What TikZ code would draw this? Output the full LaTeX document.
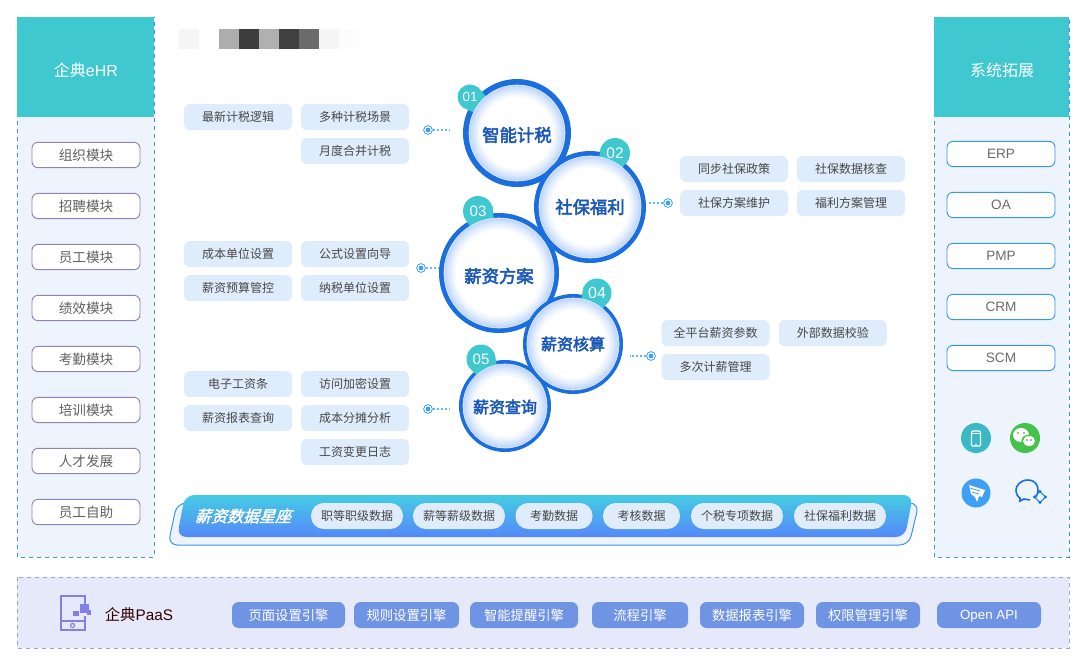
\documentclass[tikz,border=0pt]{standalone}
\usepackage{fontspec}
\setmainfont{Noto Sans CJK SC}
\newfontfamily\latinfont{Liberation Sans}
\newfontfamily\ballfont[FakeBold=3]{Noto Sans CJK SC}
\newfontfamily\starfont[FakeBold=2,FakeSlant=0.3]{Noto Sans CJK SC}
\usetikzlibrary{shapes,positioning}
\definecolor{tealhead}{RGB}{64,200,208}
\definecolor{panelblue}{RGB}{237,244,254}
\definecolor{dashblue}{RGB}{58,150,235}
\definecolor{tagblue}{RGB}{223,236,251}
\definecolor{ringblue}{RGB}{26,110,224}
\definecolor{balltext}{RGB}{28,88,184}
\definecolor{glowblue}{RGB}{165,198,250}
\definecolor{modpurple}{RGB}{146,128,184}
\definecolor{dotblue}{RGB}{62,160,245}
\definecolor{dotlight}{RGB}{92,192,248}
\definecolor{paasfill}{RGB}{230,233,250}
\definecolor{paasdash}{RGB}{160,160,232}
\definecolor{paasicon}{RGB}{128,128,232}
\definecolor{enginefill}{RGB}{112,148,228}
\definecolor{bandtop}{RGB}{69,205,227}
\definecolor{bandbottom}{RGB}{85,136,250}
\definecolor{phoneteal}{RGB}{60,184,196}
\definecolor{chatgreen}{RGB}{67,195,75}

\begin{document}
\begin{tikzpicture}[x=0.75pt,y=-0.75pt,on grid,node distance=38.25pt,
        panel/.style={fill=panelblue,draw=dashblue,dashed,line width=0.75pt},
        headtext/.style={text=white,font=\fontsize{12}{14}\selectfont},
        modbox/.style={draw=modpurple,fill=white,rounded corners=4.5pt,line width=0.7pt,minimum width=81pt,minimum height=19pt,inner sep=0pt,text=black!62,font=\fontsize{10.2}{12}\selectfont},
        sysbox/.style={modbox,draw=dashblue,text=black!58,font=\latinfont\fontsize{10.2}{12}\selectfont},
        tag/.style={fill=tagblue,rounded corners=4.5pt,minimum width=81pt,minimum height=19.5pt,inner sep=0pt,text=black!72,font=\fontsize{9}{11}\selectfont},
        ball/.style={circle,draw=white!60!glowblue,line width=0.5pt,fill=white,inner sep=0pt,minimum size=#1*0.75pt},
        ballname/.style={text=balltext,font=\ballfont\fontsize{#1}{15}\selectfont},
        badge/.style={circle,fill=tealhead,inner sep=0pt,minimum size=#1*0.75pt},
        badgenum/.style={text=white,inner sep=0pt,font=\latinfont\fontsize{#1}{13}\selectfont},
        dotmark/.style={circle,draw=dotblue,fill=white,line width=0.7pt,inner sep=0pt,minimum size=6.5pt},
        dotline/.style={dotlight,line width=1.2pt,dash pattern=on 1.5pt off 1.5pt},
        pill/.style={fill=tagblue,rounded corners=9.5pt,minimum width=#1*0.75pt,minimum height=19.5pt,inner sep=0pt,text=black!72,font=\fontsize{9}{11}\selectfont},
        engine/.style={fill=enginefill,rounded corners=5pt,minimum width=#1*0.75pt,minimum height=19.5pt,inner sep=0pt,text=white,font=\fontsize{10}{12}\selectfont}]
        \useasboundingbox (0,0) rectangle (1079,658);

        \path[panel] (17,17) rectangle (154,557);
        \path[panel] (934,17) rectangle (1069,557);
        \path[fill=paasfill,draw=paasdash,dashed,line width=0.75pt] (17,577) rectangle (1069,648);
        \fill[tealhead] (17,17) rectangle (154,117);
        \fill[tealhead] (934,17) rectangle (1069,117);
        \node[headtext]         (h_1) at (86,70)        {企典{\latinfont eHR}};
        \node[headtext]         (h_2) at (1002,70)      {系统拓展};

        \foreach \x/\g in {179/96,219/68,239/24,259/69,279/25,299/42,319/96,339/99}
            \fill[white!\g!black] (\x,29) rectangle ++(20,20);

        \node[modbox]           (m_1) at (86,155)       {组织模块};
        \node[modbox]           (m_2) [below of = m_1]  {招聘模块};
        \node[modbox]           (m_3) [below of = m_2]  {员工模块};
        \node[modbox]           (m_4) [below of = m_3]  {绩效模块};
        \node[modbox]           (m_5) [below of = m_4]  {考勤模块};
        \node[modbox]           (m_6) [below of = m_5]  {培训模块};
        \node[modbox]           (m_7) [below of = m_6]  {人才发展};
        \node[modbox]           (m_8) [below of = m_7]  {员工自助};

        \node[sysbox]           (s_1) at (1001,154)     {ERP};
        \node[sysbox]           (s_2) [below of = s_1]  {OA};
        \node[sysbox]           (s_3) [below of = s_2]  {PMP};
        \node[sysbox]           (s_4) [below of = s_3]  {CRM};
        \node[sysbox]           (s_5) [below of = s_4]  {SCM};

        \node[tag]              (t_1) at (238,117)                          {最新计税逻辑};
        \node[tag]              (t_2) [right of = t_1,node distance=87.75pt] {多种计税场景};
        \node[tag]              (t_3) [below of = t_2,node distance=25.5pt]  {月度合并计税};

        \node[tag]              (t_4) at (238,254)                          {成本单位设置};
        \node[tag]              (t_5) [right of = t_4,node distance=87.75pt] {公式设置向导};
        \node[tag]              (t_6) [below of = t_4,node distance=25.5pt]  {薪资预算管控};
        \node[tag]              (t_7) [right of = t_6,node distance=87.75pt] {纳税单位设置};

        \node[tag]              (t_8) at (238,384)                          {电子工资条};
        \node[tag]              (t_9) [right of = t_8,node distance=87.75pt] {访问加密设置};
        \node[tag]              (t_10) [below of = t_8,node distance=25.5pt] {薪资报表查询};
        \node[tag]              (t_11) [right of = t_10,node distance=87.75pt] {成本分摊分析};
        \node[tag]              (t_12) [below of = t_11,node distance=25.5pt] {工资变更日志};

        \node[tag]              (t_13) at (734,169)                         {同步社保政策};
        \node[tag]              (t_14) [right of = t_13,node distance=87.75pt] {社保数据核查};
        \node[tag]              (t_15) [below of = t_13,node distance=25.5pt] {社保方案维护};
        \node[tag]              (t_16) [right of = t_15,node distance=87.75pt] {福利方案管理};

        \node[tag]              (t_17) at (715.5,333)                       {全平台薪资参数};
        \node[tag]              (t_18) [right of = t_17,node distance=88pt]  {外部数据校验};
        \node[tag]              (t_19) [below of = t_17,node distance=25.5pt] {多次计薪管理};

        \foreach \i/\cx/\cy/\rr/\dd/\fs/\ty/\bx/\by/\bd/\bs/\ta/\tb/\lab/\num in {
                1/517/133/54/96/13/2/470/97/25/10/52/232/智能计税/01,
                2/590/207/56/102/13/0/615/153/30/11.5/-25/155/社保福利/02,
                3/499/273/60/110/13/3/478/211/30/11.3/19/199/薪资方案/03,
                5/505/406/46/84/12/1/481/359/29/11.3/27/207/薪资查询/05,
                4/573/344/50/92/12/0/597/293/29/12/-25/155/薪资核算/04} {
            \coordinate (o_\i) at (\cx,\cy);
            \fill[ringblue] (o_\i) circle (\rr);
            \node[badge=\bd] (b_\i) at (\bx,\by) {};
            \fill[tealhead] (b_\i.\ta) -- (o_\i) -- (b_\i.\tb) -- cycle;
            \node[badgenum=\bs] (u_\i) at (b_\i) {\num};
            \node[ball=\dd] (c_\i) at (o_\i) {};
            \foreach \k/\p in {0/70,1/62,2/54,3/46,4/38,5/30,6/23,7/16,8/10,9/5,10/0}
                \fill[glowblue!\p!white] (o_\i) circle (\dd/2-0.3-\k*1.2);
            \node[ballname=\fs] (n_\i) at (\cx,\cy+\ty) {\lab};
        }

        \node[dotmark]          (d_1) at (428,130)  {};
        \node[dotmark]          (d_2) at (668,203)  {};
        \node[dotmark]          (d_3) at (421,268)  {};
        \node[dotmark]          (d_4) at (651,356)  {};
        \node[dotmark]          (d_5) at (428,409)  {};
        \coordinate             (e_1) at (449,130);
        \coordinate             (e_2) at (648,203);
        \coordinate             (e_3) at (439,268);
        \coordinate             (e_4) at (630,356);
        \coordinate             (e_5) at (449,409);
        \foreach \i in {1,...,5} {
            \draw[dotline] (d_\i) -- (e_\i);
            \fill[white] (d_\i) circle (3.6);
            \fill[dotblue] (d_\i) circle (2.4);
        }

        \path[fill=panelblue,draw=dashblue,line width=0.75pt,rounded corners=7pt] (177,503) -- (919,503) -- (909,545) -- (168,545) -- cycle;
        \path[top color=bandtop,bottom color=bandbottom,rounded corners=7pt] (185,495) -- (913,495) -- (905,537) -- (177,537) -- cycle;
        \node[text=white,font=\starfont\fontsize{12}{14}\selectfont] (l_1) at (243,516) {薪资数据星座};
        \node[pill=92]          (p_1) at (357,516)  {职等职级数据};
        \node[pill=92]          (p_2) at (459,516)  {薪等薪级数据};
        \node[pill=77]          (p_3) at (554,516)  {考勤数据};
        \node[pill=77]          (p_4) at (641.5,516) {考核数据};
        \node[pill=92]          (p_5) at (737,516)  {个税专项数据};
        \node[pill=92]          (p_6) at (840,516)  {社保福利数据};

        \node[text=black!80!red,font=\fontsize{11.5}{14}\selectfont] (l_2) at (139,615) {企典{\latinfont PaaS}};
        \node[engine=113]       (g_1) at (288.5,615) {页面设置引擎};
        \node[engine=105]       (g_2) at (406.5,615) {规则设置引擎};
        \node[engine=108]       (g_3) at (524,615)  {智能提醒引擎};
        \node[engine=96]        (g_4) at (640,615)  {流程引擎};
        \node[engine=104]       (g_5) at (752,615)  {数据报表引擎};
        \node[engine=104]       (g_6) at (868,615)  {权限管理引擎};
        \node[engine=104,text height=7pt,text depth=0.5pt,font=\latinfont\fontsize{10}{12}\selectfont] (g_7) at (989,615) {Open API};

        \draw[paasicon,line width=1.5pt] (85,604) -- (85,596) -- (61,596) -- (61,630) -- (85,630) -- (85,616);
        \draw[paasicon,line width=1.2pt] (61,621) -- (85,621);
        \draw[paasicon,line width=0.9pt] (72.5,625.5) circle (2);
        \fill[paasicon] (80,604) rectangle (89,613);
        \fill[paasicon] (73,611) rectangle (79,616);
        \fill[paasicon] (87,610) rectangle (91,615);

        \fill[phoneteal] (976,438) circle (15);
        \draw[white,line width=0.8pt,rounded corners=0.8pt] (971.5,431) rectangle (980.5,446);
        \fill[white] (976,444.3) circle (0.8);
        \draw[white,line width=0.5pt] (971.5,433) -- (980.5,433);

        \fill[chatgreen] (1025,438) circle (15);
        \fill[white] (1021,435) ellipse (8 and 7);
        \fill[chatgreen] (1029,441) ellipse (7.5 and 6.5);
        \fill[white] (1029,441) ellipse (6 and 5);
        \foreach \x/\y in {1018/433,1024/433,1027/440,1031/440}
            \fill[chatgreen!70!black] (\x,\y) circle (0.9);

        \fill[dotblue] (976,493) circle (14.5);
        \fill[white] (969,485) -- (985,490) -- (982,497) -- (979,496) -- (977,502) -- (975,497) -- (971,494) -- cycle;
        \draw[dotblue,line width=0.6pt] (970,488) -- (980,491) (972,492) -- (979,494);

        \draw[ringblue,line width=1.2pt] (1036,497) .. controls (1041,488) and (1036,480) .. (1028,480) .. controls (1020,480) and (1016,486) .. (1016,490) .. controls (1016,494) and (1018,497) .. (1020,498) -- (1020,501) -- (1024,499) -- (1030,500);
        \fill[ringblue] (1040,491.5) circle (1.7) (1040,502.5) circle (1.7) (1034.5,497) circle (1.7) (1045.5,497) circle (1.7);
        \draw[ringblue,line width=0.7pt] (1040,491.5) -- (1045.5,497) -- (1040,502.5) -- (1034.5,497) -- cycle;
\end{tikzpicture}
\end{document}
